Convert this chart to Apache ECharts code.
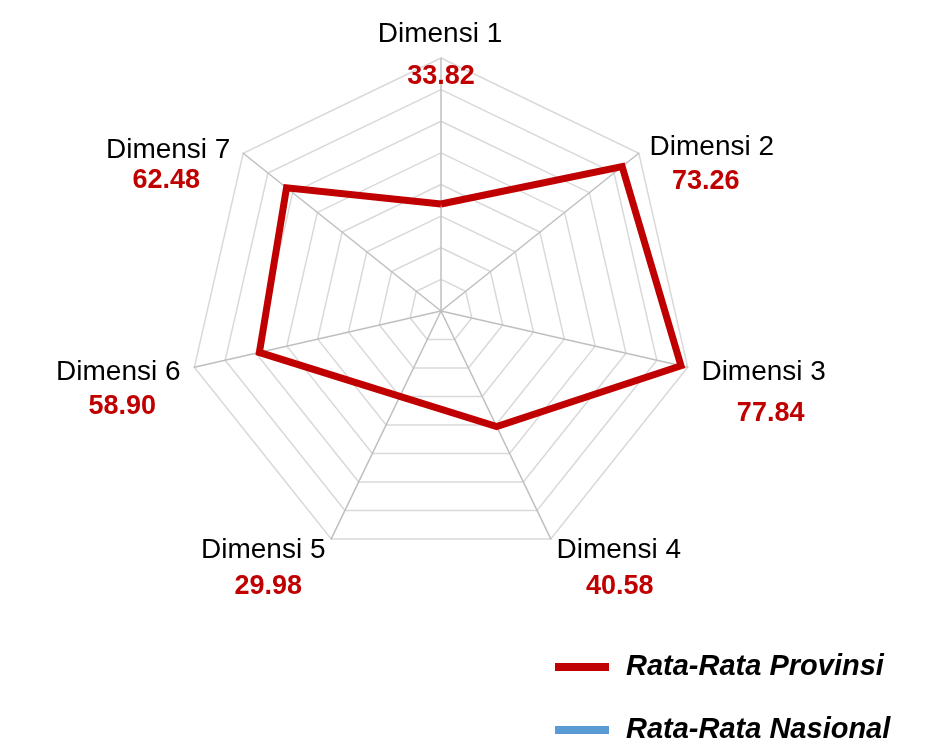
<!DOCTYPE html>
<html>
<head>
<meta charset="utf-8">
<script src="https://cdn.jsdelivr.net/npm/echarts@6/dist/echarts.min.js"></script>
<style>
html,body{margin:0;padding:0;background:#fff;}
#chart{width:930px;height:745px;}
</style>
</head>
<body>
<div id="chart"></div>
<script>
// ---- data ----
const dimensions = ['Dimensi 1','Dimensi 2','Dimensi 3','Dimensi 4','Dimensi 5','Dimensi 6','Dimensi 7'];
const provinsi = [33.82, 73.26, 77.84, 40.58, 29.98, 58.90, 62.48];
const nasional = [];
const axisMax = 80;
const seriesNames = ['Rata-Rata Provinsi', 'Rata-Rata Nasional'];

// ---- layout / style constants ----
const FONT = '"Liberation Sans", Arial, sans-serif';
// ECharts places indicators counter-clockwise; reorder so dimensions run clockwise
const order = [0, 6, 5, 4, 3, 2, 1];
// label offsets (name, value) relative to each axis end point
const labelOffsets = [
  [[-1,-24], [0,19]],
  [[73,-6], [67,28]],
  [[76,5], [83,46]],
  [[68,11], [69,48]],
  [[-68,11], [-63,48]],
  [[-76,5], [-72,39]],
  [[-75,-3], [-77,27]]
];

const chart = echarts.init(document.getElementById('chart'), null, {renderer:'canvas'});

const legendText = {fontFamily: FONT, fontSize: 29, fontStyle: 'italic', fontWeight: 'bold', color: '#000', padding: [0,0,0,12], lineHeight: 30};
const option = {
  animation: false,
  backgroundColor: '#ffffff',
  legend: [
    {orient: 'vertical', left: 550, top: 647, selectedMode: false, icon: 'rect', itemWidth: 54, itemHeight: 8,
     data: [seriesNames[0]], textStyle: legendText},
    {orient: 'vertical', left: 550, top: 710, selectedMode: false, icon: 'rect', itemWidth: 54, itemHeight: 8,
     data: [seriesNames[1]], textStyle: legendText}
  ],
  radar: {
    center: [441, 311],
    radius: 253,
    shape: 'polygon',
    startAngle: 90,
    splitNumber: 8,
    indicator: order.map(k => ({name: dimensions[k], min: 0, max: axisMax})),
    axisLine: {lineStyle: {color: '#bfbfbf', width: 1.5}},
    splitLine: {lineStyle: {color: '#d9d9d9', width: 1.5}},
    splitArea: {show: false},
    axisName: {show: false}
  },
  series: [
    {
      type: 'radar',
      symbol: 'none',
      data: [{name: seriesNames[0], value: order.map(k => provinsi[k])}],
      lineStyle: {color: '#c00000', width: 7, join: 'miter'},
      itemStyle: {color: '#c00000'},
      z: 3
    },
    {
      type: 'radar',
      symbol: 'none',
      data: [{name: seriesNames[1], value: order.map(k => nasional[k])}],
      lineStyle: {color: '#5b9bd5', width: 7},
      itemStyle: {color: '#5b9bd5'},
      z: 2
    }
  ]
};
chart.setOption(option);

// category + value labels, positioned from the radar's own axis end points
const radarCS = chart.getModel().getComponent('radar', 0).coordinateSystem;
const graphics = [];
dimensions.forEach((name, k) => {
  const j = order.indexOf(k);
  const p = radarCS.dataToPoint(axisMax, j);
  const [no, vo] = labelOffsets[k];
  graphics.push({
    type: 'text', x: p[0] + no[0], y: p[1] + no[1], z: 10,
    style: {text: name, fontFamily: FONT, fontSize: 28, fill: '#000', align: 'center', verticalAlign: 'middle'}
  });
  graphics.push({
    type: 'text', x: p[0] + vo[0], y: p[1] + vo[1], z: 10,
    style: {text: provinsi[k].toFixed(2), fontFamily: FONT, fontSize: 27, fontWeight: 'bold', fill: '#c00000', align: 'center', verticalAlign: 'middle'}
  });
});
chart.setOption({graphic: graphics});
</script>
</body>
</html>
